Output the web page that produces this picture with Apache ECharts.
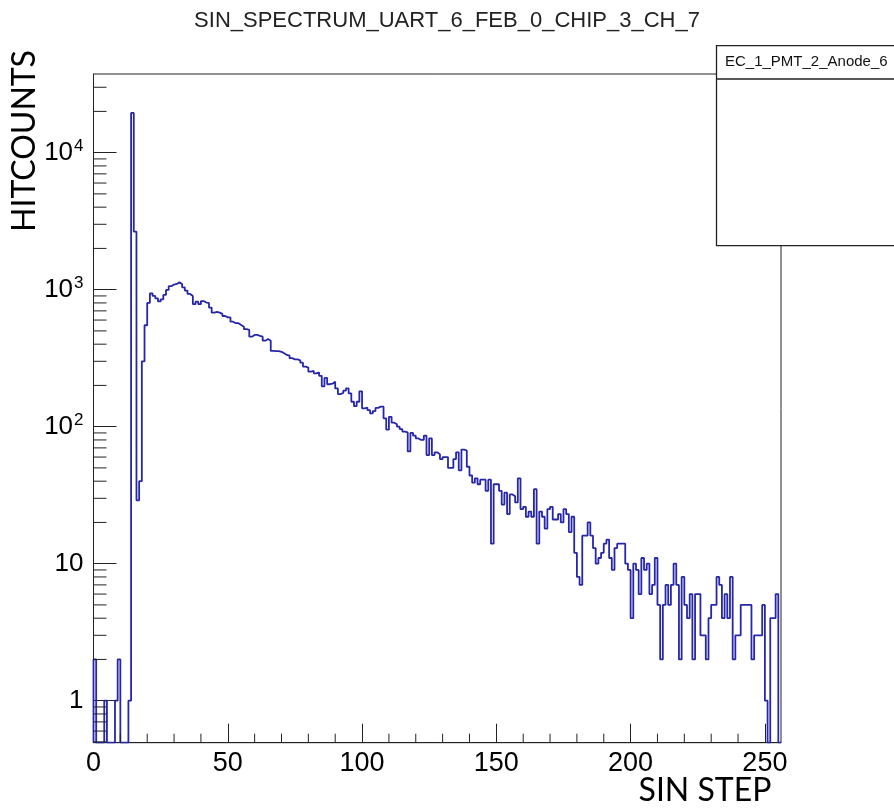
<!DOCTYPE html>
<html><head><meta charset="utf-8">
<script src="https://cdn.jsdelivr.net/npm/echarts@6/dist/echarts.min.js"></script>
<style>html,body{margin:0;padding:0;background:#fff}#c{width:894px;height:810px}</style>
</head><body><div id="c"></div>
<script>
// ---- data ----
const chartTitle = 'SIN_SPECTRUM_UART_6_FEB_0_CHIP_3_CH_7';
const statsName = 'EC_1_PMT_2_Anode_6';
const xTitle = 'SIN STEP';
const yTitle = 'HITCOUNTS';
const xRange = [0, 256];
const yRange = [0.4935, 37500];
const binLow = 0;
const binWidth = 1;
const counts = [
  2,0,0,0,1,0,0,0,1,2,
  0,0,0,1,19500,2650,29,40,300,550,
  800,940,900,865,820,850,915,995,1060,1090,
  1100,1130,1100,1040,985,930,900,783,817,783,
  826,805,800,740,680,687,680,665,642,628,
  628,584,569,569,553,537,515,508,454,467,
  467,460,454,424,436,424,357,356,356,352,
  343,334,330,316,310,310,305,293,274,270,
  252,256,245,249,235,197,227,204,206,213,
  190,173,176,183,190,175,152,141,152,181,
  136,138,132,125,130,137,140,140,115,95,
  118,107,104,100,96,92,91,66,90,86,
  82,80,80,86,62,82,62,65,63,58,
  60,60,50,50,58,65,48,68,67,51,
  44,39,42,38,41,41,34,41,14,38,
  38,34,27,33,23,32,31,28,42,25,
  26,22,24,22,35,14,24,22,18,25,
  26,21,21,23,20,25,23,17,22,12,
  8,7,16,16,20,16,13,10,11,12,
  14,15,11,9,13,14,14,14,10,9,
  4,10,9,6,11,9,10,6,7,11,
  5,2,5,7,5,7,10,7,2,8,
  5,4,6,2,6,6,3,3,2,4,
  5,5,8,7,4,6,4,8,2,3,
  3,5,5,5,5,2,3,3,3,5,
  1,0,4,4,6,0
];
const xMajorTicks = [0, 50, 100, 150, 200, 250];
const xMinorTicks = [10,20,30,40,60,70,80,90,110,120,130,140,160,170,180,190,210,220,230,240];
const yMinorTicks = [0.5,0.6,0.7,0.8,0.9,2,3,4,5,6,7,8,9,20,30,40,50,60,70,80,90,
  200,300,400,500,600,700,800,900,2000,3000,4000,5000,6000,7000,8000,9000,20000,30000];

// ---- build step outline (zero bins drawn on the frame bottom, as ROOT does on log scale) ----
const floorVal = v => Math.max(v, yRange[0]);
const stepPts = [[binLow, yRange[0]]];
counts.forEach((c, i) => stepPts.push([binLow + i * binWidth, floorVal(c)]));
stepPts.push([binLow + counts.length * binWidth, floorVal(counts[counts.length - 1])]);

const chart = echarts.init(document.getElementById('c'), null, {renderer: 'canvas'});
const labelFont = 'Liberation Sans, Arial, sans-serif';
chart.setOption({
  animation: false,
  backgroundColor: '#fff',
  title: {
    text: chartTitle, left: 'center', top: 5,
    textStyle: {fontFamily: labelFont, fontSize: 22, fontWeight: 'normal', color: '#222'}
  },
  grid: {left: 93.5, right: 113, top: 74, bottom: 67.3, show: true, borderColor: '#222', borderWidth: 1, backgroundColor: 'transparent'},
  xAxis: {
    type: 'value', min: xRange[0], max: xRange[1], interval: 50,
    axisLine: {show: true, lineStyle: {color: '#222', width: 1}},
    axisTick: {show: true, inside: true, length: 19, lineStyle: {color: '#222', width: 1}},
    splitLine: {show: false},
    axisLabel: {showMaxLabel: false, margin: 7, color: '#000', fontFamily: labelFont, fontSize: 27,
      formatter: v => (xMajorTicks.indexOf(v) >= 0 ? String(v) : '')}
  },
  yAxis: {
    type: 'log', logBase: 10, min: yRange[0], max: yRange[1],
    axisLine: {show: true, lineStyle: {color: '#222', width: 1}},
    axisTick: {show: true, inside: true, length: 23, lineStyle: {color: '#222', width: 1}},
    splitLine: {show: false},
    axisLabel: {
      showMinLabel: false, showMaxLabel: false, margin: 10, color: '#000',
      fontFamily: labelFont, fontSize: 26,
      formatter: v => {
        const e = Math.round(Math.log10(v));
        if (e === 0) return '1';
        if (e === 1) return '10';
        return '{b|10}{s|' + e + '}';
      },
      rich: {
        b: {fontFamily: labelFont, fontSize: 26, color: '#000', lineHeight: 30},
        s: {fontFamily: labelFont, fontSize: 17, color: '#000', verticalAlign: 'top', lineHeight: 30, padding: [0, 0, 0, 1]}
      }
    }
  },
  series: [
    {
      type: 'line', data: stepPts, step: 'end', symbol: 'none', clip: true,
      lineStyle: {color: '#2626aa', width: 1.8}, z: 3
    },
    {
      type: 'custom', coordinateSystem: 'cartesian2d', silent: true, clip: false, z: 4,
      data: yMinorTicks.map(v => [xRange[0], v]),
      renderItem: (params, api) => {
        const p = api.coord([api.value(0), api.value(1)]);
        return {type: 'line', shape: {x1: p[0], y1: p[1], x2: p[0] + 13, y2: p[1]}, style: {stroke: '#222', lineWidth: 1}};
      }
    },
    {
      type: 'custom', coordinateSystem: 'cartesian2d', silent: true, clip: false, z: 4,
      data: xMinorTicks.map(v => [v, yRange[0]]),
      renderItem: (params, api) => {
        const p = api.coord([api.value(0), api.value(1)]);
        return {type: 'line', shape: {x1: p[0], y1: p[1], x2: p[0], y2: p[1] - 9}, style: {stroke: '#222', lineWidth: 1}};
      }
    }
  ],
  graphic: [
    {type: 'rect', z: 100, shape: {x: 716.5, y: 45.7, width: 220, height: 200},
      style: {fill: '#fff', stroke: '#222', lineWidth: 1.3}},
    {type: 'line', z: 101, shape: {x1: 716.5, y1: 79, x2: 900, y2: 79}, style: {stroke: '#222', lineWidth: 1.3}},
    {type: 'text', z: 102, x: 725, y: 62,
      style: {text: statsName, font: '15px "Liberation Sans", Arial, sans-serif', fill: '#111', verticalAlign: 'middle', align: 'left'}},
    {type: 'text', z: 102, x: 25, y: 141, rotation: Math.PI / 2,
      style: {text: yTitle, font: '32px Lato, "Open Sans", sans-serif', fill: '#000', align: 'center', verticalAlign: 'middle'}},
    {type: 'text', z: 102, x: 705, y: 791,
      style: {text: xTitle, font: '32px Lato, "Open Sans", sans-serif', fill: '#000', align: 'center', verticalAlign: 'middle'}}
  ]
});
</script>
</body></html>
